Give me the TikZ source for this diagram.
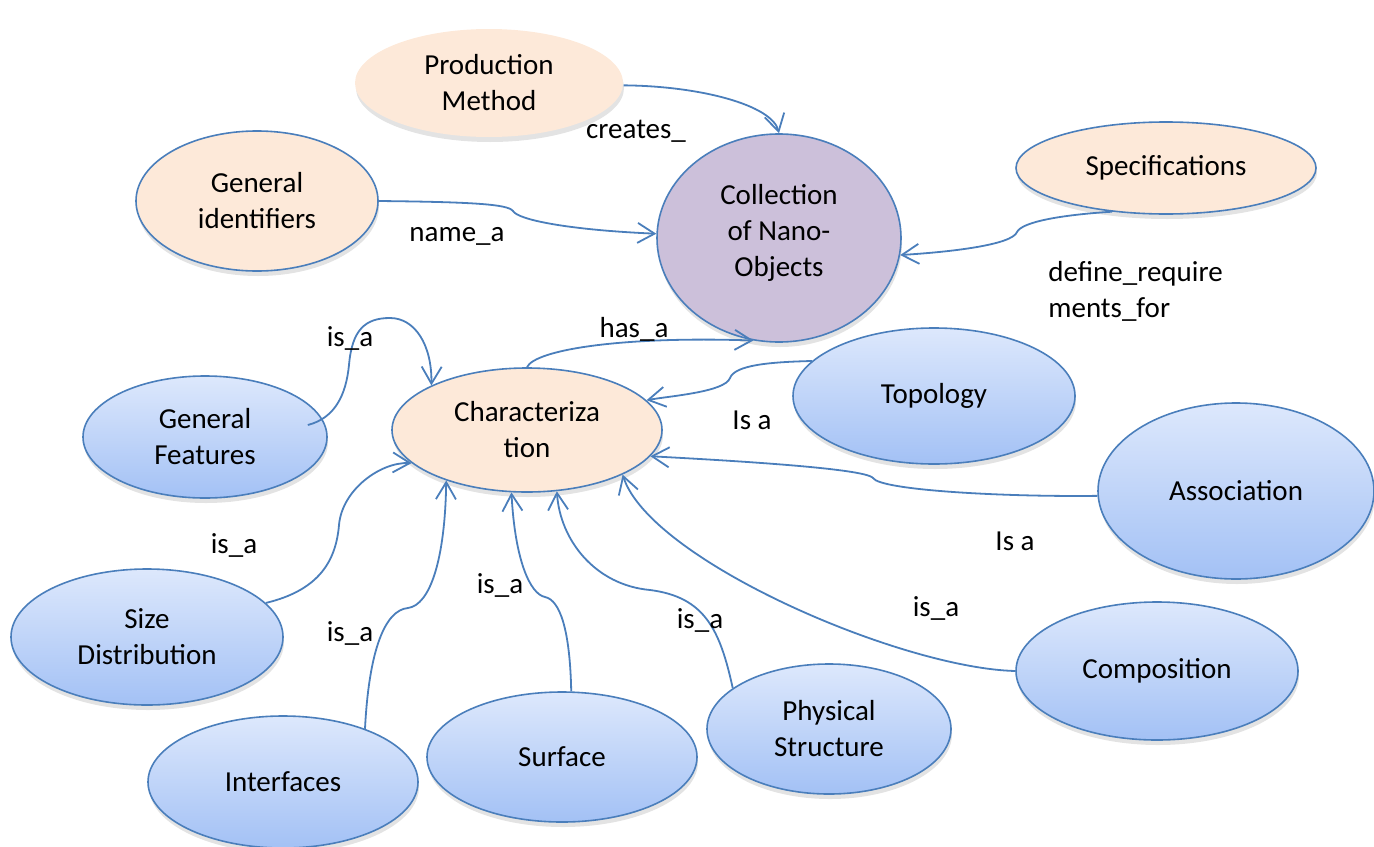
\documentclass[tikz,border=0pt]{standalone}
\usepackage{fontspec}
\setmainfont{Carlito}
\usetikzlibrary{arrows.meta,shapes.geometric,shadows}
\definecolor{edgeblue}{HTML}{4A7EBB}
\definecolor{peach}{HTML}{FDE9D9}
\definecolor{lilac}{HTML}{CCC0DA}
\definecolor{skytop}{HTML}{DDE8FC}
\definecolor{skybot}{HTML}{A3C1F5}

\begin{document}
\begin{tikzpicture}[x=0.5pt,y=-0.5pt,>={Straight Barb[length=8.5pt,width=10pt]},
font=\fontsize{14.5}{18}\selectfont,
oval/.style={ellipse,inner sep=0pt,align=center,draw=edgeblue,line width=0.8pt,drop shadow={opacity=0.22,shadow xshift=0.5pt,shadow yshift=-2.5pt}},
concept/.style={oval,fill=peach},
feature/.style={oval,top color=skytop,bottom color=skybot},
rel/.style={->,draw=edgeblue,line width=0.9pt},
lbl/.style={inner sep=0pt}]
\useasboundingbox (0,0) rectangle (1374,846);
% upper concepts
\node[concept,draw=none,minimum width=134pt,minimum height=54pt] (prod) at (489,83) {Production\\Method};
\node[concept,minimum width=121pt,minimum height=70pt] (ident) at (257,201) {General\\identifiers};
\node[oval,fill=lilac,minimum width=122pt,minimum height=104pt,text depth=8pt] (coll) at (779,238) {Collection\\of Nano-\\Objects};
\node[concept,minimum width=150pt,minimum height=46pt] (spec) at (1166,168) {Specifications};
\node[concept,minimum width=135pt,minimum height=62pt] (char) at (527,430) {Characteriza\\tion};
% features
\node[feature,minimum width=122pt,minimum height=61pt] (genf) at (205,437) {General\\Features};
\node[feature,minimum width=141pt,minimum height=68pt] (topo) at (934,396) {Topology};
\node[feature,minimum width=138pt,minimum height=88pt] (assoc) at (1236,491) {Association};
\node[feature,minimum width=136pt,minimum height=68pt] (sized) at (147,637) {Size\\Distribution};
\node[feature,minimum width=135pt,minimum height=66pt] (intf) at (283,782) {Interfaces};
\node[feature,minimum width=135pt,minimum height=65pt] (surf) at (562,757) {Surface};
\node[feature,minimum width=122pt,minimum height=65pt] (phys) at (829,729) {Physical\\Structure};
\node[feature,minimum width=141pt,minimum height=69pt] (comp) at (1157,671) {Composition};

% relations into the collection
\draw[rel] (prod.-1) .. controls (700,86) and (772,105) .. (coll.90);
\draw[rel] (ident.east) .. controls (470,202) and (508,204) .. (513,211) .. controls (518,220) and (570,230) .. (coll.178);
\draw[rel] (spec.219) .. controls (1060,215) and (1022,222) .. (1017,232) .. controls (1012,245) and (950,252) .. (coll.-8);
\draw[rel] (char.90) .. controls (535,350) and (620,336) .. (coll.256);
% is_a relations
\draw[rel] ([xshift=-10pt,yshift=6pt]genf.east) .. controls (335,418) and (346,395) .. (349,365) .. controls (352,330) and (365,318) .. (390,318) .. controls (415,318) and (432,345) .. (char.155);
\draw[rel] (topo.164) .. controls (770,362) and (735,365) .. (730,378) .. controls (725,392) and (670,396) .. (char.14);
\draw[rel] (assoc.182) .. controls (1000,497) and (880,490) .. (873,478) .. controls (865,468) and (720,460) .. (char.348);
\draw[rel] (sized.16) .. controls (320,590) and (336,560) .. (339,525) .. controls (342,490) and (380,462) .. (char.196);
\draw[rel] (intf.33) .. controls (369,650) and (385,610) .. (408,608) .. controls (430,605) and (445,560) .. (char.212);
\draw[rel] (surf.82) .. controls (570,630) and (560,600) .. (545,597) .. controls (530,594) and (515,560) .. (char.256);
\draw[rel] (phys.157) .. controls (720,630) and (705,597) .. (650,590) .. controls (595,585) and (560,540) .. (char.296);
\draw[rel] (comp.180) .. controls (900,668) and (650,560) .. (char.335);

% labels
\node[lbl] (lcreates) at (636,131) {creates\_};
\node[lbl] (lname) at (457,236) {name\_a};
\node[lbl,anchor=west,align=left] (ldefine) at (1048,291) {define\_require\\ments\_for};
\node[lbl] (lhas) at (634,329) {has\_a};
\node[lbl] (lgenf) at (350,338) {is\_a};
\node[lbl] (ltopo) at (752,420) {Is a};
\node[lbl] (lassoc) at (1015,541) {Is a};
\node[lbl] (lsized) at (234,545) {is\_a};
\node[lbl] (lintf) at (350,633) {is\_a};
\node[lbl] (lsurf) at (500,585) {is\_a};
\node[lbl] (lphys) at (700,620) {is\_a};
\node[lbl] (lcomp) at (936,608) {is\_a};
\end{tikzpicture}
\end{document}
